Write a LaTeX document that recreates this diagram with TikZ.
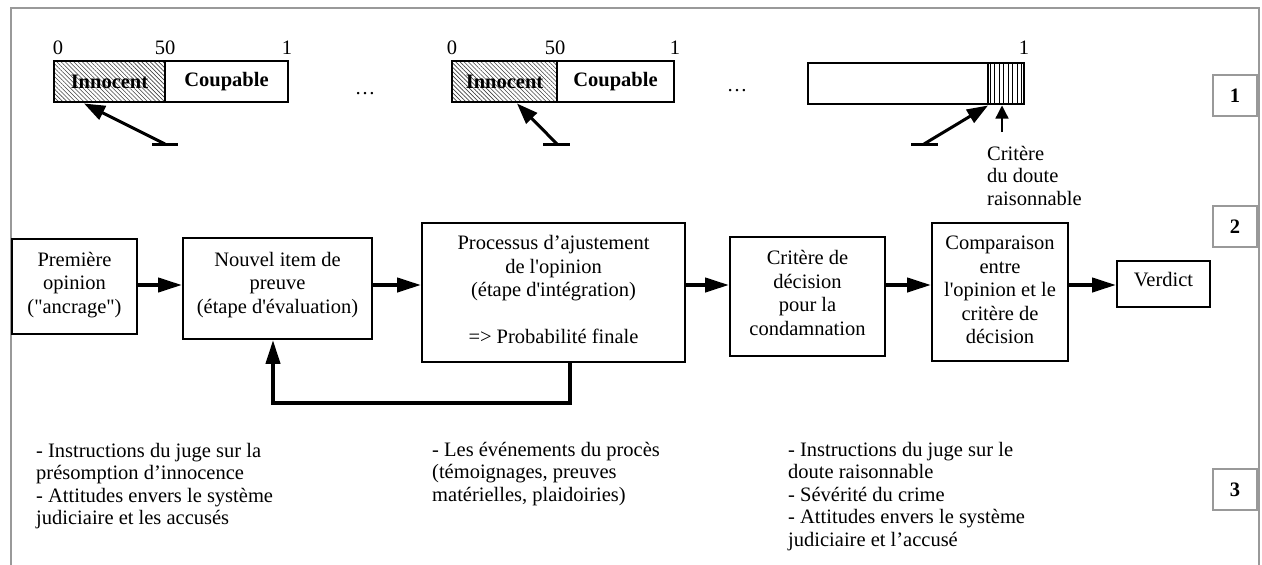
\documentclass[tikz,border=0pt]{standalone}
\usepackage{fontspec}
\setmainfont{Liberation Serif}[Ligatures=TeXOff]
\usetikzlibrary{arrows.meta,patterns.meta}
\begin{document}
\begin{tikzpicture}[x=1pt,y=-1pt,
  every node/.style={font=\fontsize{20.5}{23.5}\selectfont, inner sep=0pt},
  frame/.style={draw=black!40, line width=1.6pt},
  box/.style={draw, line width=1.8pt},
  txt/.style={align=center, font=\fontsize{20.5}{23.5}\selectfont},
  barpart/.style={draw, line width=1.8pt, minimum height=41pt, font=\fontsize{20.5}{23.5}\selectfont\bfseries},
  hatch/.style={pattern={Lines[angle=-45,distance=3pt,line width=0.6pt]}, pattern color=black!75},
  vhatch/.style={pattern={Lines[angle=90,distance=4.5pt,line width=0.9pt]}, pattern color=black},
  nbox/.style={draw=black!40, line width=1.6pt, minimum width=44pt, minimum height=41pt, font=\fontsize{20.5}{23.5}\selectfont\bfseries},
  flow/.style={line width=4pt, -{Triangle[length=24pt,width=14pt]}},
  ptr/.style={line width=3pt, -{Triangle[length=21pt,width=15pt]}},
  tbar/.style={line width=3pt},
  thinptr/.style={line width=1.3pt, -{Triangle[length=13pt,width=13pt]}},
  notes/.style={anchor=north west, align=left, font=\fontsize{20.5}{22.5}\selectfont}]
\useasboundingbox (0,0) rectangle (1262,565);
% frame
\draw[frame] (11,565) -- (11,8) -- (1259,8) -- (1259,565);

% ---- row 1 : scales
\node[barpart, hatch, minimum width=111pt] (inn1) at (109.5,81.5) {Innocent};
\node[barpart, minimum width=123pt] (cou1) at (226.5,81.5) {Coupable};
\node (z1) at (58,48) {0};
\node (f1) at (165,48) {50};
\node (o1) at (287,48) {1};
\node (dots1) at (365,94) {…};

\node[barpart, hatch, minimum width=105pt] (inn2) at (504.5,81.5) {Innocent};
\node[barpart, minimum width=117pt] (cou2) at (615.5,81.5) {Coupable};
\node (z2) at (452,48) {0};
\node (f2) at (555,48) {50};
\node (o2) at (675,48) {1};
\node (dots2) at (737,91) {…};

\node[barpart, minimum width=180pt] (bar3) at (898,83.5) {};
\node[barpart, vhatch, minimum width=36pt] (crit3) at (1006,83.5) {};
\node (o3) at (1024,48) {1};

% arrows to scales
\coordinate (a1l) at (152,144); \coordinate (a1r) at (178,144);
\coordinate (a1s) at (165,144); \coordinate (a1t) at (84,103.5);
\draw[tbar] (a1l) -- (a1r);
\draw[ptr] (a1s) -- (a1t);

\coordinate (a2l) at (543,144); \coordinate (a2r) at (570,144);
\coordinate (a2s) at (557,144); \coordinate (a2t) at (517,103.5);
\draw[tbar] (a2l) -- (a2r);
\draw[ptr] (a2s) -- (a2t);

\coordinate (a3l) at (911,144); \coordinate (a3r) at (938,144);
\coordinate (a3s) at (924,144); \coordinate (a3t) at (988,105.5);
\draw[tbar] (a3l) -- (a3r);
\draw[ptr] (a3s) -- (a3t);

\coordinate (v3s) at (1002,132); \coordinate (v3t) at (1002,105.5);
\draw[thinptr] (v3s) -- (v3t);
\node[notes] (critlbl) at (987,146) {Critère\\du doute\\raisonnable};

% ---- row 2 : process
\node[box, minimum width=125pt, minimum height=95pt,
  label={[txt, yshift=1.5pt]center:Première\\opinion\\("ancrage")}] (prem) at (74.5,286.5) {};
\node[box, minimum width=189pt, minimum height=101pt,
  label={[txt, yshift=3.5pt]center:Nouvel item de\\preuve\\(étape d'évaluation)}] (nouv) at (277.5,288.5) {};
\node[box, minimum width=263pt, minimum height=139pt,
  label={[txt, yshift=3pt]center:Processus d’ajustement\\de l'opinion\\(étape d'intégration)\\[23.5pt]=> Probabilité finale}] (proc) at (553.5,292.5) {};
\node[box, minimum width=155pt, minimum height=119pt,
  label={[txt, yshift=3.5pt]center:Critère de\\décision\\pour la\\condamnation}] (crit) at (807.5,296.5) {};
\node[box, minimum width=136pt, minimum height=138pt,
  label={[txt, yshift=2pt]center:Comparaison\\entre\\l'opinion et le\\critère de\\décision}] (comp) at (1000,292) {};
\node[box, minimum width=93pt, minimum height=46pt,
  label={[txt, yshift=4pt]center:Verdict}] (verd) at (1163.5,284) {};

\coordinate (row) at (0,285);
\draw[flow] (prem.east |- row) -- (nouv.west |- row);
\draw[flow] (nouv.east |- row) -- (proc.west |- row);
\draw[flow] (proc.east |- row) -- (crit.west |- row);
\draw[flow] (crit.east |- row) -- (comp.west |- row);
\draw[flow] (comp.east |- row) -- (verd.west |- row);

\coordinate (fb1) at (570,403); \coordinate (fb2) at (273,403);
\draw[flow] (proc.south -| fb1) -- (fb1) -- (fb2) -- (nouv.south -| fb2);

% ---- row 3 : notes
\node[notes] (n1) at (36,443) {- Instructions du juge sur la\\présomption d’innocence\\- Attitudes envers le système\\judiciaire et les accusés};
\node[notes] (n2) at (432,442) {- Les événements du procès\\(témoignages, preuves\\matérielles, plaidoiries)};
\node[notes] (n3) at (788,442) {- Instructions du juge sur le\\doute raisonnable\\- Sévérité du crime\\- Attitudes envers le système\\judiciaire et l’accusé};

% ---- level numbers
\node[nbox] (l1) at (1235,95.5) {1};
\node[nbox] (l2) at (1235,226.5) {2};
\node[nbox] (l3) at (1235,489.5) {3};
\end{tikzpicture}
\end{document}
